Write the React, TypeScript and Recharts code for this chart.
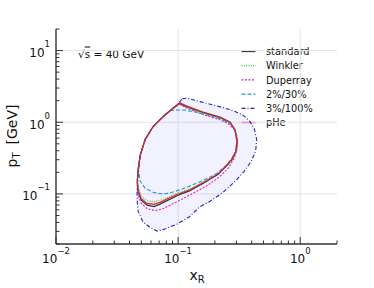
import React from 'react';
import { ScatterChart, Scatter, XAxis, YAxis, ReferenceLine } from 'recharts';

// ---- data (x_R, p_T [GeV]) contour points ----
const standard = [
  { x: 0.1025, y: 1.82 }, { x: 0.118, y: 1.64 }, { x: 0.16, y: 1.36 }, { x: 0.221, y: 1.16 },
  { x: 0.267, y: 0.99 }, { x: 0.293, y: 0.77 }, { x: 0.305, y: 0.54 }, { x: 0.298, y: 0.39 },
  { x: 0.277, y: 0.303 }, { x: 0.252, y: 0.25 }, { x: 0.213, y: 0.188 }, { x: 0.166, y: 0.145 },
  { x: 0.125, y: 0.111 }, { x: 0.1, y: 0.096 }, { x: 0.0828, y: 0.0818 }, { x: 0.0711, y: 0.072 },
  { x: 0.0635, y: 0.0664 }, { x: 0.0557, y: 0.0697 }, { x: 0.0498, y: 0.0818 }, { x: 0.047, y: 0.1057 },
  { x: 0.0463, y: 0.15 }, { x: 0.0473, y: 0.235 }, { x: 0.0489, y: 0.345 }, { x: 0.0537, y: 0.575 },
  { x: 0.0624, y: 0.871 }, { x: 0.0754, y: 1.2 }, { x: 0.091, y: 1.57 }, { x: 0.1025, y: 1.82 },
];

const winkler = [
  { x: 0.1025, y: 1.8 }, { x: 0.118, y: 1.62 }, { x: 0.16, y: 1.35 }, { x: 0.222, y: 1.15 },
  { x: 0.27, y: 0.98 }, { x: 0.297, y: 0.77 }, { x: 0.309, y: 0.54 }, { x: 0.302, y: 0.39 },
  { x: 0.281, y: 0.305 }, { x: 0.256, y: 0.255 }, { x: 0.216, y: 0.195 }, { x: 0.168, y: 0.152 },
  { x: 0.126, y: 0.118 }, { x: 0.1, y: 0.104 }, { x: 0.0828, y: 0.09 }, { x: 0.0711, y: 0.081 },
  { x: 0.0635, y: 0.0775 }, { x: 0.0557, y: 0.0805 }, { x: 0.0498, y: 0.093 }, { x: 0.0473, y: 0.124 },
  { x: 0.0465, y: 0.171 }, { x: 0.0473, y: 0.235 }, { x: 0.0489, y: 0.345 }, { x: 0.0537, y: 0.575 },
  { x: 0.0624, y: 0.871 }, { x: 0.0754, y: 1.2 }, { x: 0.091, y: 1.56 }, { x: 0.1025, y: 1.8 },
];

const duperray = [
  { x: 0.1025, y: 1.79 }, { x: 0.1185, y: 1.57 }, { x: 0.16, y: 1.28 }, { x: 0.217, y: 1.09 },
  { x: 0.257, y: 0.96 }, { x: 0.288, y: 0.792 }, { x: 0.305, y: 0.613 }, { x: 0.305, y: 0.446 },
  { x: 0.288, y: 0.313 }, { x: 0.257, y: 0.2275 }, { x: 0.217, y: 0.171 }, { x: 0.17, y: 0.128 },
  { x: 0.13, y: 0.1007 }, { x: 0.1038, y: 0.0818 }, { x: 0.0859, y: 0.0697 }, { x: 0.0739, y: 0.0613 },
  { x: 0.0648, y: 0.0585 }, { x: 0.0557, y: 0.0623 }, { x: 0.0498, y: 0.0743 }, { x: 0.0479, y: 0.0871 },
  { x: 0.047, y: 0.108 }, { x: 0.0463, y: 0.15 }, { x: 0.0473, y: 0.235 }, { x: 0.0489, y: 0.345 },
  { x: 0.0537, y: 0.575 }, { x: 0.0624, y: 0.871 }, { x: 0.0754, y: 1.2 }, { x: 0.091, y: 1.56 },
  { x: 0.1025, y: 1.79 },
];

const pct2_30 = [
  { x: 0.0859, y: 1.45 }, { x: 0.0982, y: 1.48 }, { x: 0.112, y: 1.48 }, { x: 0.138, y: 1.39 },
  { x: 0.166, y: 1.28 }, { x: 0.221, y: 1.12 }, { x: 0.267, y: 0.96 }, { x: 0.293, y: 0.77 },
  { x: 0.302, y: 0.54 }, { x: 0.296, y: 0.39 }, { x: 0.272, y: 0.303 }, { x: 0.247, y: 0.25 },
  { x: 0.209, y: 0.194 }, { x: 0.163, y: 0.156 }, { x: 0.1185, y: 0.124 }, { x: 0.091, y: 0.106 },
  { x: 0.0754, y: 0.099 }, { x: 0.0624, y: 0.1057 }, { x: 0.0537, y: 0.12 }, { x: 0.0489, y: 0.15 },
  { x: 0.0473, y: 0.22 }, { x: 0.0489, y: 0.345 }, { x: 0.0537, y: 0.575 }, { x: 0.0624, y: 0.871 },
  { x: 0.0754, y: 1.2 }, { x: 0.0859, y: 1.45 },
];

const pct3_100 = [
  { x: 0.108, y: 2.13 }, { x: 0.1186, y: 2.17 }, { x: 0.151, y: 1.94 }, { x: 0.201, y: 1.71 },
  { x: 0.267, y: 1.5 }, { x: 0.335, y: 1.28 }, { x: 0.382, y: 1.06 }, { x: 0.42, y: 0.818 },
  { x: 0.44, y: 0.575 }, { x: 0.431, y: 0.39 }, { x: 0.396, y: 0.284 }, { x: 0.348, y: 0.206 },
  { x: 0.293, y: 0.15 }, { x: 0.234, y: 0.1057 }, { x: 0.183, y: 0.0792 }, { x: 0.151, y: 0.0664 },
  { x: 0.123, y: 0.0475 }, { x: 0.0982, y: 0.038 }, { x: 0.0781, y: 0.0324 }, { x: 0.0673, y: 0.0303 },
  { x: 0.0589, y: 0.034 }, { x: 0.0516, y: 0.0405 }, { x: 0.047, y: 0.0575 }, { x: 0.0461, y: 0.0843 },
  { x: 0.0461, y: 0.116 }, { x: 0.047, y: 0.188 }, { x: 0.0489, y: 0.345 }, { x: 0.0537, y: 0.575 },
  { x: 0.0624, y: 0.871 }, { x: 0.0754, y: 1.2 }, { x: 0.091, y: 1.58 }, { x: 0.0982, y: 1.73 },
  { x: 0.108, y: 2.13 },
];

const pHe = [
  { x: 0.1025, y: 1.88 }, { x: 0.118, y: 1.68 }, { x: 0.16, y: 1.39 }, { x: 0.221, y: 1.18 },
  { x: 0.267, y: 1.0 }, { x: 0.292, y: 0.78 }, { x: 0.303, y: 0.54 }, { x: 0.296, y: 0.39 },
  { x: 0.275, y: 0.305 }, { x: 0.25, y: 0.252 }, { x: 0.212, y: 0.19 }, { x: 0.165, y: 0.148 },
  { x: 0.125, y: 0.114 }, { x: 0.1, y: 0.1 }, { x: 0.0828, y: 0.0866 }, { x: 0.0711, y: 0.0762 },
  { x: 0.0635, y: 0.0715 }, { x: 0.0557, y: 0.0738 }, { x: 0.0498, y: 0.0866 }, { x: 0.047, y: 0.114 },
  { x: 0.0463, y: 0.15 }, { x: 0.0473, y: 0.235 }, { x: 0.0489, y: 0.345 }, { x: 0.0537, y: 0.575 },
  { x: 0.0624, y: 0.871 }, { x: 0.0754, y: 1.2 }, { x: 0.091, y: 1.58 }, { x: 0.1025, y: 1.88 },
];

const xTicks = [0.01, 0.02, 0.03, 0.04, 0.05, 0.06, 0.07, 0.08, 0.09, 0.1, 0.2, 0.3, 0.4, 0.5, 0.6, 0.7, 0.8, 0.9, 1, 2];
const yTicks = [0.02, 0.03, 0.04, 0.05, 0.06, 0.07, 0.08, 0.09, 0.1, 0.2, 0.3, 0.4, 0.5, 0.6, 0.7, 0.8, 0.9, 1, 2, 3, 4, 5, 6, 7, 8, 9, 10, 20];
const xMajor = [0.01, 0.1, 1];
const yMajor = [0.1, 1, 10];
const xDomain = [0.01, 2];
const yDomain = [0.02, 20];

const series = [
  { name: 'standard', data: standard, color: '#333333', dash: undefined as string | undefined, width: 1.2 },
  { name: 'Winkler', data: winkler, color: '#33cc33', dash: '1 1.3', width: 1.1 },
  { name: 'Duperray', data: duperray, color: '#dd22bb', dash: '2 1.5', width: 1.1 },
  { name: '2%/30%', data: pct2_30, color: '#2299cc', dash: '4 2', width: 1.1 },
  { name: '3%/100%', data: pct3_100, color: '#2222cc', dash: '4 2 1 2', width: 1.1 },
  { name: 'pHe', data: pHe, color: '#dd2222', dash: undefined as string | undefined, width: 1.1 },
];

const AX = '#333333';
const FONT = 'DejaVu Sans, sans-serif';

const isMajor = (v: number) => Math.abs(Math.log10(v) - Math.round(Math.log10(v))) < 1e-6;
const expOf = (v: number) => {
  const e = Math.round(Math.log10(v));
  return e < 0 ? '\u2212' + Math.abs(e) : String(e);
};

const BottomTick = (props: any) => {
  const { x, y, payload } = props;
  const v = payload.value;
  const major = isMajor(v);
  return (
    <g>
      <line x1={x} y1={y} x2={x} y2={y - (major ? 7 : 3.5)} stroke={AX} strokeWidth={1} />
      {major && (
        <text x={x} y={y + 19} textAnchor="middle" fontFamily={FONT} fontSize={12} fill="#111">
          10<tspan dy={-9} fontSize={8.5}>{expOf(v)}</tspan>
        </text>
      )}
    </g>
  );
};

const TopTick = (props: any) => {
  const { x, y, payload } = props;
  const major = isMajor(payload.value);
  return <line x1={x} y1={y} x2={x} y2={y + (major ? 7 : 3.5)} stroke={AX} strokeWidth={1} />;
};

const LeftTick = (props: any) => {
  const { x, y, payload } = props;
  const v = payload.value;
  const major = isMajor(v);
  return (
    <g>
      <line x1={x} y1={y} x2={x + (major ? 7 : 3.5)} y2={y} stroke={AX} strokeWidth={1} />
      {major && (
        <text x={x - 6} y={y + 6.5} textAnchor="end" fontFamily={FONT} fontSize={12} fill="#111">
          10<tspan dy={-10} fontSize={8.5}>{expOf(v)}</tspan>
        </text>
      )}
    </g>
  );
};

const RightTick = (props: any) => {
  const { x, y, payload } = props;
  const major = isMajor(payload.value);
  return <line x1={x} y1={y} x2={x - (major ? 7 : 3.5)} y2={y} stroke={AX} strokeWidth={1} />;
};

const NoShape = () => <g />;

export default function App() {
  return (
    <div style={{ position: 'absolute', left: 0, top: 0, width: 374, height: 288, background: '#fff' }}>
      <ScatterChart width={374} height={288} margin={{ top: 29, right: 37, bottom: 14, left: 16 }}>
        <XAxis xAxisId={0} type="number" dataKey="x" scale="log" domain={xDomain} allowDataOverflow
          ticks={xTicks} interval={0} tick={<BottomTick />} tickLine={false} tickSize={0} tickMargin={0}
          axisLine={{ stroke: AX, strokeWidth: 1.4 }} height={30} />
        <XAxis xAxisId="top" orientation="top" type="number" dataKey="x" scale="log" domain={xDomain} allowDataOverflow
          ticks={xTicks} interval={0} tick={<TopTick />} tickLine={false} tickSize={0} tickMargin={0}
          axisLine={{ stroke: AX, strokeWidth: 1.4 }} height={0} />
        <YAxis yAxisId={0} type="number" dataKey="y" scale="log" domain={yDomain} allowDataOverflow
          ticks={yTicks} interval={0} tick={<LeftTick />} tickLine={false} tickSize={0} tickMargin={0}
          axisLine={{ stroke: AX, strokeWidth: 1.4 }} width={40} />
        <YAxis yAxisId="right" orientation="right" type="number" dataKey="y" scale="log" domain={yDomain} allowDataOverflow
          ticks={yTicks} interval={0} tick={<RightTick />} tickLine={false} tickSize={0} tickMargin={0}
          axisLine={{ stroke: AX, strokeWidth: 1.4 }} width={0} />
        {xMajor.slice(1).map((v) => (
          <ReferenceLine key={'gx' + v} x={v} stroke="#e4e4e4" strokeWidth={1} />
        ))}
        {yMajor.map((v) => (
          <ReferenceLine key={'gy' + v} y={v} stroke="#e4e4e4" strokeWidth={1} />
        ))}
        <Scatter name="fill" data={pct3_100} isAnimationActive={false} shape={NoShape} legendType="none"
          line={{ stroke: 'none', fill: 'rgba(60,60,255,0.07)' }} lineType="joint" lineJointType="linear" />
        {series.map((s) => (
          <Scatter key={s.name} name={s.name} data={s.data} isAnimationActive={false} shape={NoShape}
            line={{ stroke: s.color, strokeWidth: s.width, strokeDasharray: s.dash, fill: 'none' }}
            lineType="joint" lineJointType="linear" />
        ))}
        <g>
          {series.map((s, i) => {
            const yy = 51.5 + i * 14.2;
            return (
              <g key={'lg' + s.name}>
                <line x1={241.5} x2={255.5} y1={yy} y2={yy} stroke={s.color} strokeWidth={1.3} strokeDasharray={s.dash} />
                <text x={266} y={yy + 3.6} fontFamily={FONT} fontSize={9.8} fill="#111">{s.name}</text>
              </g>
            );
          })}
        </g>
        <text x={78} y={57.5} fontFamily={FONT} fontSize={10.5} fill="#111">
          √<tspan textDecoration="overline">s</tspan> = 40 GeV
        </text>
        <text x={197} y={280} textAnchor="middle" fontFamily={FONT} fontSize={14} fill="#111">
          x<tspan dy={3} fontSize={10}>R</tspan>
        </text>
        <text x={17} y={136} textAnchor="middle" fontFamily={FONT} fontSize={14} fill="#111" transform="rotate(-90, 17, 136)">
          p<tspan dy={3} fontSize={10}>T</tspan><tspan dy={-3} dx={8}>[GeV]</tspan>
        </text>
      </ScatterChart>
    </div>
  );
}
